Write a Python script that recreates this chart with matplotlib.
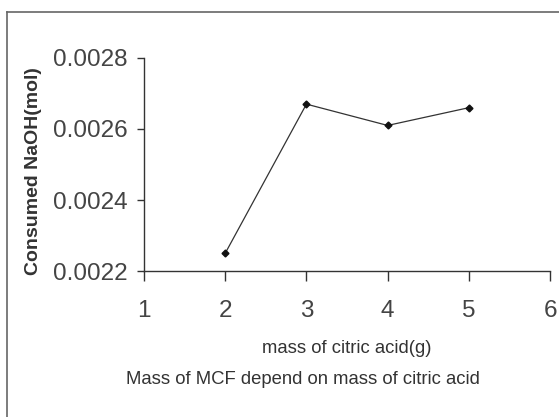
import matplotlib.pyplot as plt
from matplotlib.lines import Line2D

plt.rcParams["font.family"] = ["Liberation Sans", "DejaVu Sans"]

# data
mass_citric = [2, 3, 4, 5]
naoh_consumed = [0.00225, 0.00267, 0.00261, 0.00266]
x_ticks = [1, 2, 3, 4, 5, 6]
y_ticks = [0.0022, 0.0024, 0.0026, 0.0028]
y_tick_labels = ["0.0022", "0.0024", "0.0026", "0.0028"]

fig = plt.figure(figsize=(5.59, 4.17), dpi=100)
ax = fig.add_axes([0.2576, 0.350, 0.7264, 0.511])

ax.plot(mass_citric, naoh_consumed, color="#333333", lw=0.9,
        marker="D", markersize=3.5, markerfacecolor="#111111", markeredgecolor="#111111")

ax.set_xlim(1, 6)
ax.set_ylim(0.0022, 0.0028)
ax.set_xticks(x_ticks)
ax.set_yticks(y_ticks)
ax.set_yticklabels(y_tick_labels)

for s in ["top", "right"]:
    ax.spines[s].set_visible(False)
for s in ["left", "bottom"]:
    ax.spines[s].set_color("#333333")
    ax.spines[s].set_linewidth(1.0)

ax.tick_params(axis="y", direction="out", length=5, width=1, pad=7,
               labelsize=17.5, labelcolor="#444444", color="#333333")
ax.tick_params(axis="x", direction="out", length=7, width=1, pad=14,
               labelsize=17.5, labelcolor="#444444", color="#333333")

ax.set_ylabel("Consumed NaOH(mol)", fontsize=14, fontweight="bold", color="#333333")
ax.yaxis.set_label_coords(-0.25, 0.47)

fig.text(0.621, 0.165, "mass of citric acid(g)", fontsize=13.3, color="#333333",
         ha="center", va="center")
fig.text(0.225, 0.089, "Mass of MCF depend on mass of citric acid", fontsize=13.3,
         color="#333333", ha="left", va="center")

# outer frame (left and top edges visible)
fig.add_artist(Line2D([0.013, 0.013], [0.0, 0.971], transform=fig.transFigure,
                      color="#666666", lw=1.2))
fig.add_artist(Line2D([0.013, 1.0], [0.971, 0.971], transform=fig.transFigure,
                      color="#666666", lw=1.2))

fig.savefig("out.png", dpi=100)
